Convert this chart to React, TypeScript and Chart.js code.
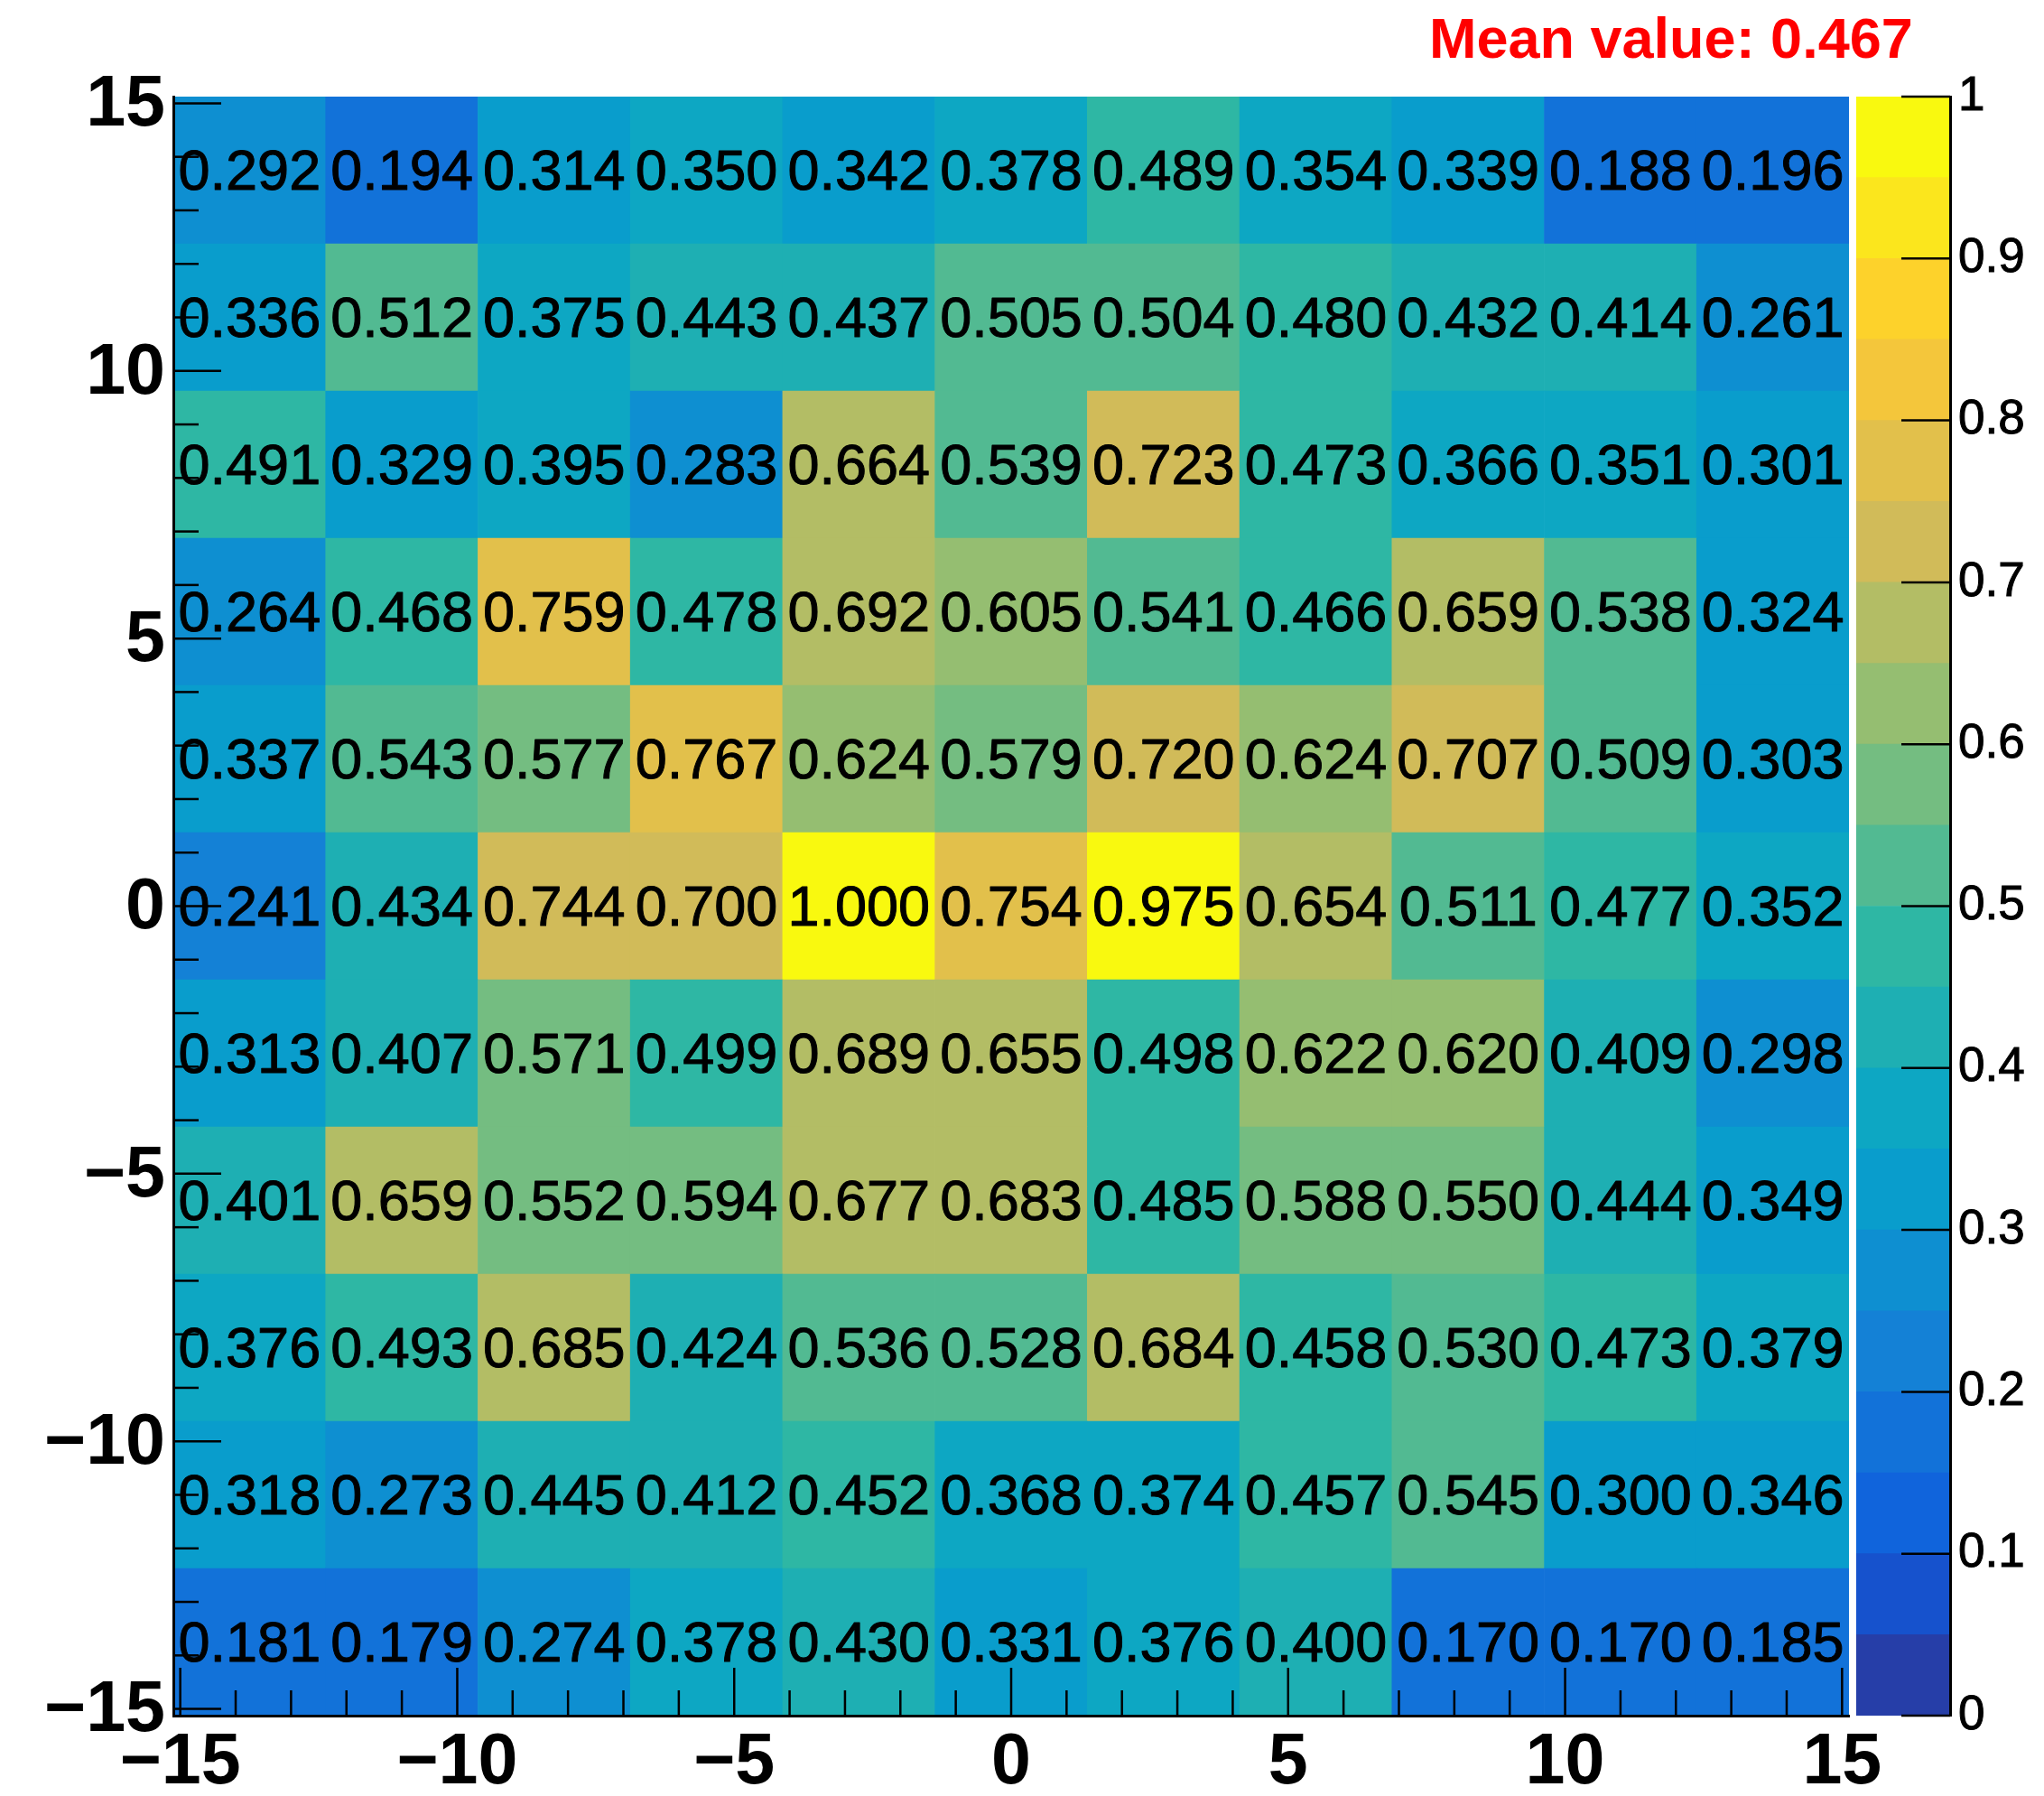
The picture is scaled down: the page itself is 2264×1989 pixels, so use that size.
import React, { useEffect, useRef } from "react";
import { Chart, registerables } from "chart.js";

Chart.register(...registerables);

// ---------- data ----------
const xBinEdges = [-15.125, -12.375, -9.625, -6.875, -4.125, -1.375, 1.375, 4.125, 6.875, 9.625, 12.375, 15.125];
const yBinEdges = [-15.125, -12.375, -9.625, -6.875, -4.125, -1.375, 1.375, 4.125, 6.875, 9.625, 12.375, 15.125];
const xMajorTicks = [-15, -10, -5, 0, 5, 10, 15];
const yMajorTicks = [-15, -10, -5, 0, 5, 10, 15];
const minorTickStep = 1;
const zMajorTicks = [0, 0.1, 0.2, 0.3, 0.4, 0.5, 0.6, 0.7, 0.8, 0.9, 1];
const contourLevels = [0, 0.05, 0.1, 0.15, 0.2, 0.25, 0.3, 0.35, 0.4, 0.45, 0.5, 0.55, 0.6, 0.65, 0.7, 0.75, 0.8, 0.85, 0.9, 0.95, 1];

// cell values: one array per y bin (bottom -> top), x bins left -> right
const rowY1 = [0.181, 0.179, 0.274, 0.378, 0.430, 0.331, 0.376, 0.400, 0.170, 0.170, 0.185];
const rowY2 = [0.318, 0.273, 0.445, 0.412, 0.452, 0.368, 0.374, 0.457, 0.545, 0.300, 0.346];
const rowY3 = [0.376, 0.493, 0.685, 0.424, 0.536, 0.528, 0.684, 0.458, 0.530, 0.473, 0.379];
const rowY4 = [0.401, 0.659, 0.552, 0.594, 0.677, 0.683, 0.485, 0.588, 0.550, 0.444, 0.349];
const rowY5 = [0.313, 0.407, 0.571, 0.499, 0.689, 0.655, 0.498, 0.622, 0.620, 0.409, 0.298];
const rowY6 = [0.241, 0.434, 0.744, 0.700, 1.000, 0.754, 0.975, 0.654, 0.511, 0.477, 0.352];
const rowY7 = [0.337, 0.543, 0.577, 0.767, 0.624, 0.579, 0.720, 0.624, 0.707, 0.509, 0.303];
const rowY8 = [0.264, 0.468, 0.759, 0.478, 0.692, 0.605, 0.541, 0.466, 0.659, 0.538, 0.324];
const rowY9 = [0.491, 0.329, 0.395, 0.283, 0.664, 0.539, 0.723, 0.473, 0.366, 0.351, 0.301];
const rowY10 = [0.336, 0.512, 0.375, 0.443, 0.437, 0.505, 0.504, 0.480, 0.432, 0.414, 0.261];
const rowY11 = [0.292, 0.194, 0.314, 0.350, 0.342, 0.378, 0.489, 0.354, 0.339, 0.188, 0.196];
const valueRows = [rowY1, rowY2, rowY3, rowY4, rowY5, rowY6, rowY7, rowY8, rowY9, rowY10, rowY11];

const meanValueLabel = "Mean value: 0.467";

// ---------- style ----------
const W = 2248;
const H = 1973;
const FONT = '"Liberation Sans", Arial, Helvetica, sans-serif';

// ROOT kBird palette
const birdStops = [0.0, 0.125, 0.25, 0.375, 0.5, 0.625, 0.75, 0.875, 1.0];
const birdRed = [0.2082, 0.0592, 0.078, 0.0232, 0.1802, 0.5301, 0.8186, 0.9956, 0.9764];
const birdGreen = [0.1664, 0.3599, 0.5041, 0.6419, 0.7178, 0.7492, 0.7328, 0.7862, 0.9832];
const birdBlue = [0.5293, 0.8684, 0.8385, 0.7914, 0.6425, 0.4662, 0.3499, 0.1968, 0.0539];

function buildPalette(n: number): number[][] {
  const table: number[][] = [];
  for (let g = 1; g < birdStops.length; g++) {
    const nc = Math.floor(n * birdStops[g]) - Math.floor(n * birdStops[g - 1]);
    for (let c = 0; c < nc; c++) {
      const f = c / nc;
      table.push([
        birdRed[g - 1] + (birdRed[g] - birdRed[g - 1]) * f,
        birdGreen[g - 1] + (birdGreen[g] - birdGreen[g - 1]) * f,
        birdBlue[g - 1] + (birdBlue[g] - birdBlue[g - 1]) * f,
      ]);
    }
  }
  return table;
}
const PALETTE = buildPalette(255);
const NCONT = contourLevels.length - 1;

function contourColor(i: number): string {
  const idx = Math.min(PALETTE.length - 1, Math.floor(((i + 0.99) * PALETTE.length) / NCONT));
  const c = PALETTE[idx];
  return `rgb(${Math.round(c[0] * 255)}, ${Math.round(c[1] * 255)}, ${Math.round(c[2] * 255)})`;
}
function contourIndex(v: number): number {
  const zmin = contourLevels[0];
  const zmax = contourLevels[contourLevels.length - 1];
  const idx = Math.floor(0.01 + ((v - zmin) * NCONT) / (zmax - zmin));
  return Math.max(0, Math.min(NCONT - 1, idx));
}
const cellColor = (v: number) => contourColor(contourIndex(v));

const fmtAxis = (v: number) => (v < 0 ? "\u2212" + Math.abs(v) : String(v));

const cellLabelsAndTicks = {
  id: "cellLabelsAndTicks",
  afterDatasetsDraw(chart: any) {
    const { ctx, chartArea, scales } = chart;
    ctx.save();
    // cell texts
    ctx.fillStyle = "#000";
    ctx.strokeStyle = "#000";
    ctx.lineWidth = 1;
    ctx.lineJoin = "round";
    ctx.font = `63px ${FONT}`;
    ctx.textAlign = "center";
    ctx.textBaseline = "middle";
    chart.data.datasets.forEach((ds: any, d: number) => {
      const meta = chart.getDatasetMeta(d);
      meta.data.forEach((el: any, i: number) => {
        const v = ds.data[i].v as number;
        const ty = (el.y + el.base) / 2 + 4;
        ctx.fillText(v.toFixed(3), el.x, ty);
        ctx.strokeText(v.toFixed(3), el.x, ty);
      });
    });
    // axis tick marks (drawn inside the frame, ROOT style)
    ctx.strokeStyle = "#000";
    ctx.lineWidth = 2.5;
    const line = (x1: number, y1: number, x2: number, y2: number) => {
      ctx.beginPath();
      ctx.moveTo(x1, y1);
      ctx.lineTo(x2, y2);
      ctx.stroke();
    };
    const x0 = xMajorTicks[0];
    const x1 = xMajorTicks[xMajorTicks.length - 1];
    for (let v = x0; v <= x1; v += minorTickStep) {
      const len = xMajorTicks.includes(v) ? 53 : 28;
      const px = scales.x.getPixelForValue(v);
      line(px, chartArea.bottom, px, chartArea.bottom - len);
    }
    const y0 = yMajorTicks[0];
    const y1 = yMajorTicks[yMajorTicks.length - 1];
    for (let v = y0; v <= y1; v += minorTickStep) {
      const len = yMajorTicks.includes(v) ? 53 : 28;
      const py = scales.y.getPixelForValue(v);
      line(chartArea.left, py, chartArea.left + len, py);
    }
    ctx.restore();
  },
};

const colorbarTicks = {
  id: "colorbarTicks",
  afterDatasetsDraw(chart: any) {
    const { ctx, chartArea, scales } = chart;
    ctx.save();
    ctx.strokeStyle = "#000";
    ctx.lineWidth = 2.5;
    for (const t of scales.y.ticks) {
      const py = scales.y.getPixelForValue(t.value);
      ctx.beginPath();
      ctx.moveTo(chartArea.right, py);
      ctx.lineTo(chartArea.right - 54, py);
      ctx.stroke();
    }
    ctx.restore();
  },
};

export default function App() {
  const mainRef = useRef<HTMLCanvasElement>(null);
  const barRef = useRef<HTMLCanvasElement>(null);

  useEffect(() => {
    const xCenters = xBinEdges.slice(0, -1).map((e, i) => (e + xBinEdges[i + 1]) / 2);
    const axisTickFont = { family: FONT, size: 79, weight: "bold" as const, lineHeight: 1 };

    const main = new Chart(mainRef.current as HTMLCanvasElement, {
      type: "bar",
      data: {
        datasets: valueRows.map((row, r) => ({
          label: `y bin ${r + 1}`,
          data: row.map((v, i) => ({ x: xCenters[i], y: [yBinEdges[r], yBinEdges[r + 1]], v })),
          backgroundColor: row.map(cellColor),
          borderWidth: 0,
          grouped: false,
          barPercentage: 1,
          categoryPercentage: 1,
        })) as any,
      },
      options: {
        animation: false,
        responsive: false,
        devicePixelRatio: 1,
        layout: { padding: { left: 0, top: 99, right: W - 2040, bottom: 0 } },
        plugins: { legend: { display: false }, tooltip: { enabled: false }, title: { display: false } },
        scales: {
          x: {
            type: "linear",
            position: "bottom",
            min: xBinEdges[0],
            max: xBinEdges[xBinEdges.length - 1],
            offset: false,
            afterBuildTicks: (s: any) => {
              s.ticks = xMajorTicks.map((value) => ({ value }));
            },
            afterFit: (s: any) => {
              s.height = H - 1892;
            },
            grid: { display: false, drawTicks: false, offset: false },
            border: { display: true, color: "#000", width: 3, z: 1 } as any,
            ticks: {
              color: "#000",
              font: axisTickFont,
              padding: 14,
              maxRotation: 0,
              minRotation: 0,
              autoSkip: false,
              callback: (v: any) => fmtAxis(Number(v)),
            },
          },
          y: {
            type: "linear",
            position: "left",
            min: yBinEdges[0],
            max: yBinEdges[yBinEdges.length - 1],
            offset: false,
            afterBuildTicks: (s: any) => {
              s.ticks = yMajorTicks.map((value) => ({ value }));
            },
            afterFit: (s: any) => {
              s.width = 184;
            },
            grid: { display: false, drawTicks: false, offset: false },
            border: { display: true, color: "#000", width: 3, z: 1 } as any,
            ticks: {
              color: "#000",
              font: axisTickFont,
              padding: 9,
              labelOffset: 3,
              autoSkip: false,
              callback: (v: any) => fmtAxis(Number(v)),
            },
          },
        },
      } as any,
      plugins: [cellLabelsAndTicks],
    });

    const bar = new Chart(barRef.current as HTMLCanvasElement, {
      type: "bar",
      data: {
        labels: ["z"],
        datasets: contourLevels.slice(0, -1).map((lo, i) => ({
          label: `contour ${i}`,
          data: [[lo, contourLevels[i + 1]]],
          backgroundColor: contourColor(i),
          borderWidth: 0,
          grouped: false,
          barPercentage: 1,
          categoryPercentage: 1,
        })) as any,
      },
      options: {
        animation: false,
        responsive: false,
        devicePixelRatio: 1,
        layout: { padding: { left: 2048, top: 99, right: 0, bottom: H - 1892 } },
        plugins: { legend: { display: false }, tooltip: { enabled: false } },
        scales: {
          x: { display: false },
          y: {
            type: "linear",
            position: "right",
            min: zMajorTicks[0],
            max: zMajorTicks[zMajorTicks.length - 1],
            afterBuildTicks: (s: any) => {
              s.ticks = zMajorTicks.map((value) => ({ value }));
            },
            afterFit: (s: any) => {
              s.width = W - 2152;
            },
            grid: { display: false, drawTicks: false },
            border: { display: true, color: "#000", width: 3, z: 1 } as any,
            ticks: {
              color: "#000",
              font: { family: FONT, size: 53, lineHeight: 1 },
              padding: 9,
              autoSkip: false,
              textStrokeColor: "#000",
              textStrokeWidth: 1,
              callback: (v: any) => String(v),
            },
          },
        },
      } as any,
      plugins: [colorbarTicks],
    });

    return () => {
      main.destroy();
      bar.destroy();
    };
  }, []);

  return (
    <div style={{ position: "relative", width: W, height: H, background: "#fff" }}>
      <canvas
        ref={mainRef}
        width={W}
        height={H}
        style={{ position: "absolute", left: 0, top: 0, width: W, height: H }}
      />
      <canvas
        ref={barRef}
        width={W}
        height={H}
        style={{ position: "absolute", left: 0, top: 0, width: W, height: H }}
      />
      <div
        style={{
          position: "absolute",
          left: 1575,
          top: 3,
          color: "#ff0000",
          fontFamily: FONT,
          fontWeight: "bold",
          fontSize: 63,
          lineHeight: "63px",
          whiteSpace: "nowrap",
        }}
      >
        {meanValueLabel}
      </div>
    </div>
  );
}
